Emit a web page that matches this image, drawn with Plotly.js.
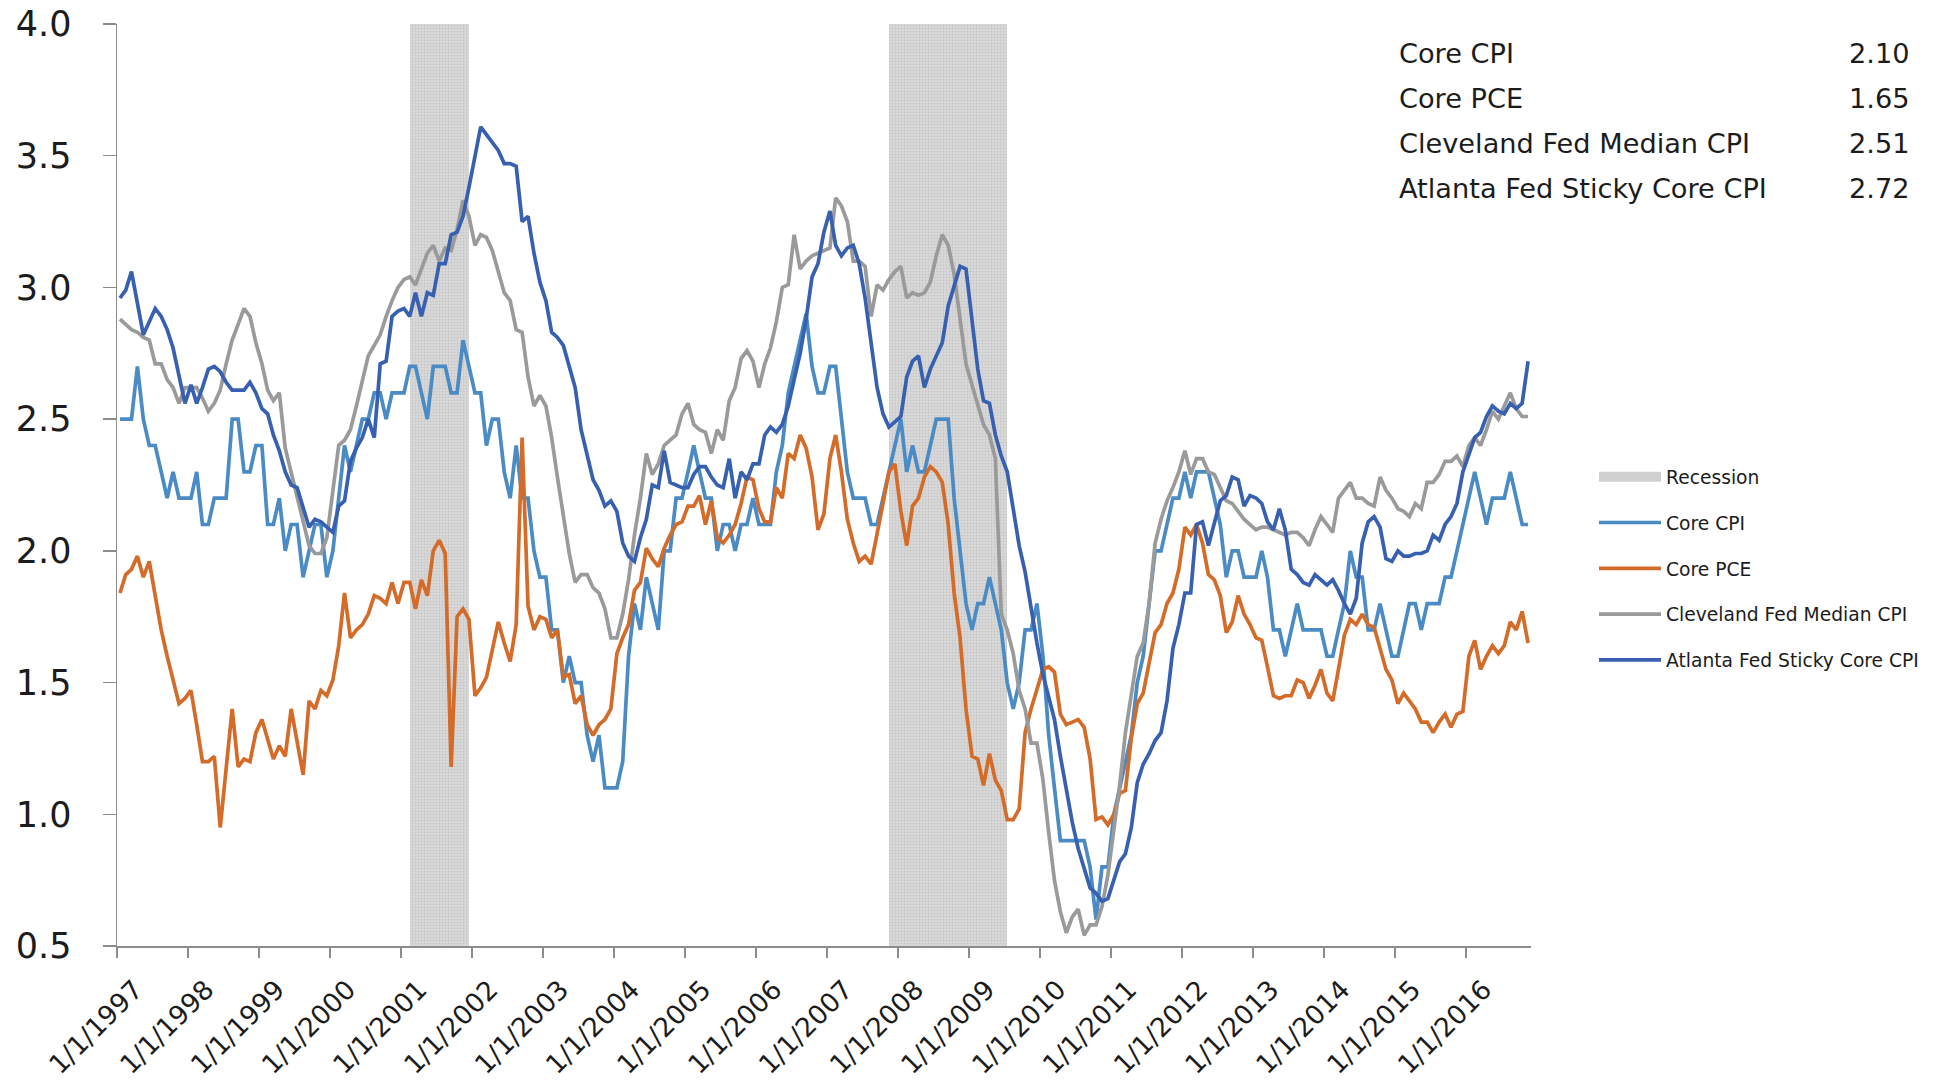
<!DOCTYPE html>
<html>
<head>
<meta charset="utf-8">
<script src="https://cdn.plot.ly/plotly-3.0.1.min.js"></script>
<style>
  html, body { margin: 0; padding: 0; background: #ffffff; }
  #chart { width: 1934px; height: 1081px; }
</style>
</head>
<body>
<div id="chart"></div>
<script>
// ---------------- DATA (monthly, Jan 1997 - Nov 2016, year-over-year %) ----------------
const firstYear = 1997;

const coreCPI = [
  2.5,2.5,2.5,2.7,2.5,2.4,2.4,2.3,2.2,2.3,2.2,2.2,
  2.2,2.3,2.1,2.1,2.2,2.2,2.2,2.5,2.5,2.3,2.3,2.4,
  2.4,2.1,2.1,2.2,2.0,2.1,2.1,1.9,2.0,2.1,2.1,1.9,
  2.0,2.2,2.4,2.3,2.4,2.5,2.5,2.6,2.6,2.5,2.6,2.6,
  2.6,2.7,2.7,2.6,2.5,2.7,2.7,2.7,2.6,2.6,2.8,2.7,
  2.6,2.6,2.4,2.5,2.5,2.3,2.2,2.4,2.2,2.2,2.0,1.9,
  1.9,1.7,1.7,1.5,1.6,1.5,1.5,1.3,1.2,1.3,1.1,1.1,
  1.1,1.2,1.6,1.8,1.7,1.9,1.8,1.7,2.0,2.0,2.2,2.2,
  2.3,2.4,2.3,2.2,2.2,2.0,2.1,2.1,2.0,2.1,2.1,2.2,
  2.1,2.1,2.1,2.3,2.4,2.6,2.7,2.8,2.9,2.7,2.6,2.6,
  2.7,2.7,2.5,2.3,2.2,2.2,2.2,2.1,2.1,2.2,2.3,2.4,
  2.5,2.3,2.4,2.3,2.3,2.4,2.5,2.5,2.5,2.2,2.0,1.8,
  1.7,1.8,1.8,1.9,1.8,1.7,1.5,1.4,1.5,1.7,1.7,1.8,
  1.6,1.3,1.1,0.9,0.9,0.9,0.9,0.9,0.8,0.6,0.8,0.8,
  1.0,1.1,1.2,1.3,1.5,1.6,1.8,2.0,2.0,2.1,2.2,2.2,
  2.3,2.2,2.3,2.3,2.3,2.2,2.1,1.9,2.0,2.0,1.9,1.9,
  1.9,2.0,1.9,1.7,1.7,1.6,1.7,1.8,1.7,1.7,1.7,1.7,
  1.6,1.6,1.7,1.8,2.0,1.9,1.9,1.7,1.7,1.8,1.7,1.6,
  1.6,1.7,1.8,1.8,1.7,1.8,1.8,1.8,1.9,1.9,2.0,2.1,
  2.2,2.3,2.2,2.1,2.2,2.2,2.2,2.3,2.2,2.1,2.1
];

const corePCE = [
  1.84,1.91,1.93,1.98,1.90,1.96,1.83,1.70,1.60,1.51,1.42,1.44,
  1.47,1.34,1.20,1.20,1.22,0.95,1.17,1.40,1.18,1.21,1.20,1.31,
  1.36,1.29,1.21,1.26,1.22,1.40,1.28,1.15,1.43,1.40,1.47,1.45,
  1.51,1.64,1.84,1.67,1.70,1.72,1.76,1.83,1.82,1.80,1.88,1.80,
  1.88,1.88,1.78,1.89,1.83,2.00,2.04,1.99,1.18,1.75,1.78,1.74,
  1.45,1.48,1.52,1.63,1.73,1.65,1.58,1.72,2.43,1.79,1.70,1.75,
  1.74,1.67,1.70,1.52,1.53,1.42,1.45,1.34,1.30,1.34,1.36,1.40,
  1.61,1.67,1.72,1.85,1.88,2.01,1.97,1.94,2.01,2.06,2.10,2.11,
  2.17,2.17,2.21,2.10,2.19,2.05,2.03,2.06,2.10,2.18,2.28,2.27,
  2.16,2.11,2.11,2.24,2.20,2.37,2.35,2.44,2.39,2.28,2.08,2.14,
  2.35,2.44,2.30,2.12,2.03,1.96,1.98,1.95,2.06,2.18,2.30,2.33,
  2.15,2.02,2.17,2.20,2.28,2.32,2.30,2.26,2.10,1.84,1.67,1.40,
  1.22,1.21,1.11,1.23,1.13,1.09,0.98,0.98,1.02,1.31,1.40,1.47,
  1.55,1.56,1.54,1.38,1.34,1.35,1.36,1.33,1.21,0.98,0.99,0.96,
  1.00,1.08,1.09,1.29,1.42,1.46,1.58,1.69,1.72,1.80,1.84,1.93,
  2.09,2.06,2.10,2.03,1.91,1.89,1.83,1.69,1.73,1.83,1.76,1.72,
  1.67,1.66,1.56,1.45,1.44,1.45,1.45,1.51,1.50,1.44,1.49,1.55,
  1.46,1.43,1.55,1.68,1.74,1.72,1.76,1.72,1.71,1.63,1.55,1.51,
  1.42,1.46,1.43,1.40,1.35,1.35,1.31,1.35,1.38,1.33,1.38,1.39,
  1.60,1.66,1.55,1.60,1.64,1.61,1.64,1.73,1.70,1.77,1.65
];

const clevelandMedianCPI = [
  2.88,2.86,2.84,2.83,2.81,2.80,2.71,2.71,2.65,2.62,2.56,2.62,
  2.62,2.62,2.58,2.53,2.56,2.61,2.71,2.80,2.86,2.92,2.89,2.79,
  2.71,2.61,2.57,2.60,2.39,2.30,2.21,2.12,2.02,1.99,1.99,2.05,
  2.22,2.40,2.42,2.46,2.55,2.65,2.74,2.78,2.82,2.89,2.95,3.00,
  3.03,3.04,3.01,3.07,3.13,3.16,3.10,3.15,3.14,3.22,3.33,3.27,
  3.16,3.20,3.19,3.14,3.06,2.98,2.95,2.84,2.83,2.66,2.55,2.59,
  2.55,2.43,2.28,2.13,1.99,1.88,1.91,1.91,1.86,1.84,1.78,1.67,
  1.67,1.76,1.89,2.06,2.20,2.37,2.29,2.33,2.40,2.42,2.44,2.52,
  2.56,2.48,2.46,2.45,2.37,2.46,2.42,2.57,2.62,2.73,2.76,2.72,
  2.62,2.71,2.77,2.87,3.00,3.01,3.20,3.07,3.10,3.12,3.13,3.14,
  3.15,3.34,3.31,3.25,3.10,3.10,3.08,2.89,3.01,2.99,3.03,3.06,
  3.08,2.96,2.98,2.97,2.98,3.02,3.12,3.20,3.16,3.05,2.89,2.71,
  2.63,2.55,2.48,2.44,2.35,1.76,1.70,1.61,1.47,1.40,1.27,1.27,
  1.13,0.93,0.75,0.63,0.55,0.61,0.64,0.54,0.58,0.58,0.65,0.77,
  0.95,1.11,1.31,1.45,1.60,1.65,1.80,2.03,2.12,2.19,2.24,2.30,
  2.38,2.29,2.35,2.35,2.30,2.29,2.24,2.19,2.18,2.15,2.12,2.10,
  2.08,2.09,2.09,2.08,2.07,2.06,2.07,2.07,2.05,2.02,2.08,2.13,
  2.10,2.07,2.20,2.23,2.26,2.20,2.20,2.18,2.17,2.28,2.23,2.20,
  2.16,2.15,2.13,2.18,2.16,2.26,2.26,2.29,2.34,2.34,2.36,2.32,
  2.40,2.43,2.40,2.46,2.53,2.50,2.55,2.60,2.54,2.51,2.51
];

const atlantaStickyCoreCPI = [
  2.96,2.99,3.06,2.94,2.82,2.87,2.92,2.89,2.84,2.77,2.66,2.56,
  2.63,2.56,2.62,2.69,2.70,2.68,2.64,2.61,2.61,2.61,2.64,2.60,
  2.54,2.52,2.44,2.38,2.30,2.25,2.24,2.17,2.09,2.12,2.11,2.09,
  2.07,2.17,2.19,2.34,2.39,2.43,2.50,2.43,2.71,2.72,2.89,2.91,
  2.92,2.89,2.98,2.89,2.98,2.97,3.09,3.09,3.20,3.21,3.27,3.38,
  3.50,3.61,3.58,3.55,3.52,3.47,3.47,3.46,3.25,3.27,3.13,3.02,
  2.95,2.83,2.81,2.78,2.70,2.62,2.46,2.36,2.27,2.23,2.17,2.19,
  2.15,2.03,1.98,1.96,2.05,2.12,2.25,2.24,2.38,2.26,2.25,2.24,
  2.24,2.29,2.32,2.32,2.28,2.25,2.24,2.35,2.20,2.30,2.27,2.33,
  2.33,2.44,2.47,2.45,2.48,2.55,2.65,2.75,2.88,3.04,3.09,3.21,
  3.29,3.16,3.12,3.15,3.16,3.09,2.96,2.78,2.62,2.52,2.47,2.49,
  2.51,2.66,2.72,2.74,2.62,2.69,2.74,2.79,2.93,3.01,3.08,3.07,
  2.87,2.69,2.57,2.56,2.44,2.36,2.30,2.15,2.02,1.92,1.78,1.65,
  1.53,1.45,1.36,1.22,1.10,0.97,0.87,0.80,0.72,0.70,0.67,0.68,
  0.75,0.82,0.85,0.95,1.12,1.19,1.23,1.28,1.31,1.43,1.63,1.72,
  1.84,1.84,2.10,2.11,2.02,2.11,2.19,2.21,2.28,2.27,2.17,2.21,
  2.20,2.18,2.11,2.08,2.16,2.08,1.93,1.91,1.88,1.87,1.91,1.89,
  1.87,1.89,1.85,1.80,1.76,1.82,2.03,2.11,2.13,2.09,1.97,1.96,
  2.00,1.98,1.98,1.99,1.99,2.00,2.06,2.04,2.10,2.13,2.18,2.30,
  2.37,2.43,2.45,2.51,2.55,2.53,2.52,2.56,2.54,2.56,2.72
];

const seriesNames = ['Core CPI', 'Core PCE', 'Cleveland Fed Median CPI', 'Atlanta Fed Sticky Core CPI'];
const recessionName = 'Recession';
// Recession months (first and last month shaded)
const recessionStart = ['2001-03', '2007-12'];
const recessionEnd   = ['2001-12', '2009-07'];

// ---------------- BUILD ----------------
const pad = n => String(n).padStart(2, '0');
const months = coreCPI.map((_, i) => `${firstYear + Math.floor(i / 12)}-${pad(i % 12 + 1)}-01`);
const januaries = months.filter(d => d.slice(5, 7) === '01');
const tickText = januaries.map(d => `1/1/${d.slice(0, 4)}`);
const lastIdx = months.length - 1;
const lastY = firstYear + Math.floor((lastIdx + 1) / 12);
const lastM = (lastIdx + 1) % 12 + 1;
const xEnd = `${lastY}-${pad(lastM)}-01`;

const Y_MIN = 0.5, Y_MAX = 4.0;

function monthMs(ym, offset) {
  const [y, m] = ym.split('-').map(Number);
  return Date.UTC(y, m - 1 + offset, 1);
}
const recLeft  = recessionStart.map(s => (monthMs(s, -1) + monthMs(s, 0)) / 2);
const recRight = recessionEnd.map(e => (monthMs(e, 0) + monthMs(e, 1)) / 2);

const FONT = 'DejaVu Sans, Verdana, sans-serif';
const colors = ['#4a8bc5', '#d46b28', '#9a9a9a', '#3760b0'];
const recColor = '#d0d0d0';

const traces = [];
traces.push({
  type: 'bar',
  name: recessionName,
  x: recLeft.map((l, i) => (l + recRight[i]) / 2),
  y: recLeft.map(() => Y_MAX - Y_MIN),
  base: Y_MIN,
  width: recLeft.map((l, i) => recRight[i] - l),
  marker: {
    color: recColor,
    line: { width: 0 },
    pattern: { shape: '.', fgcolor: '#c6c6c6', bgcolor: '#dadada', size: 3, solidity: 0.35 }
  },
  showlegend: false,
  legendgroup: 'g0',
  hoverinfo: 'skip'
});
// legend entry for recession shading
traces.push({
  type: 'scatter', mode: 'lines', name: recessionName,
  x: [null], y: [null],
  line: { color: recColor, width: 12 },
  legendgroup: 'g0', showlegend: true
});

const allSeries = [coreCPI, corePCE, clevelandMedianCPI, atlantaStickyCoreCPI];
allSeries.forEach((vals, i) => {
  traces.push({
    type: 'scatter', mode: 'lines',
    name: seriesNames[i],
    x: months, y: vals,
    xperiod: 'M1', xperiodalignment: 'middle',
    line: { color: colors[i], width: 3.7 },
    legendgroup: 'g' + (i + 1)
  });
});

// summary table (latest values) in the top-right
const rowY = [0.9675, 0.9187, 0.8709, 0.8221];
const annotations = [];
allSeries.forEach((vals, i) => {
  annotations.push({
    xref: 'paper', yref: 'paper', x: 0.9049, y: rowY[i],
    xanchor: 'left', yanchor: 'middle', showarrow: false,
    text: seriesNames[i], font: { family: FONT, size: 27.2, color: '#1c1c1c' }
  });
  annotations.push({
    xref: 'paper', yref: 'paper', x: 1.2691, y: rowY[i],
    xanchor: 'right', yanchor: 'middle', showarrow: false,
    text: vals[vals.length - 1].toFixed(2), font: { family: FONT, size: 27.2, color: '#1c1c1c' }
  });
});

const axisGrey = '#8c8c8c';
const layout = {
  width: 1934, height: 1081,
  paper_bgcolor: '#ffffff', plot_bgcolor: '#ffffff',
  margin: { l: 117, r: 403, t: 24, b: 135 },
  bargap: 0,
  font: { family: FONT, color: '#1c1c1c' },
  xaxis: {
    type: 'date',
    range: [months[0], xEnd],
    tickmode: 'array', tickvals: januaries, ticktext: tickText,
    tickangle: -45,
    ticks: 'outside', ticklen: 10, tickwidth: 1.5, tickcolor: axisGrey,
    showline: true, linecolor: axisGrey, linewidth: 1.5,
    showgrid: false, zeroline: false,
    ticklabelstandoff: 6,
    ticklabelshift: 18,
    tickfont: { family: FONT, size: 26.5, color: '#1c1c1c' }
  },
  yaxis: {
    range: [Y_MIN, Y_MAX],
    tick0: 0.5, dtick: 0.5, tickformat: '.1f',
    ticks: 'outside', ticklen: 13, tickwidth: 1.5, tickcolor: axisGrey,
    showline: true, linecolor: axisGrey, linewidth: 1.5,
    showgrid: false, zeroline: false,
    ticklabelstandoff: 24,
    tickfont: { family: FONT, size: 35, color: '#1c1c1c' }
  },
  showlegend: true,
  legend: {
    xref: 'container', yref: 'container',
    x: 0.8242, y: 0.5763, xanchor: 'left', yanchor: 'top',
    traceorder: 'grouped', tracegroupgap: 18.5,
    itemwidth: 62,
    font: { family: FONT, size: 18.7, color: '#1c1c1c' },
    bgcolor: 'rgba(0,0,0,0)'
  },
  annotations: annotations
};

Plotly.newPlot('chart', traces, layout, { displayModeBar: false, staticPlot: true });
</script>
</body>
</html>
